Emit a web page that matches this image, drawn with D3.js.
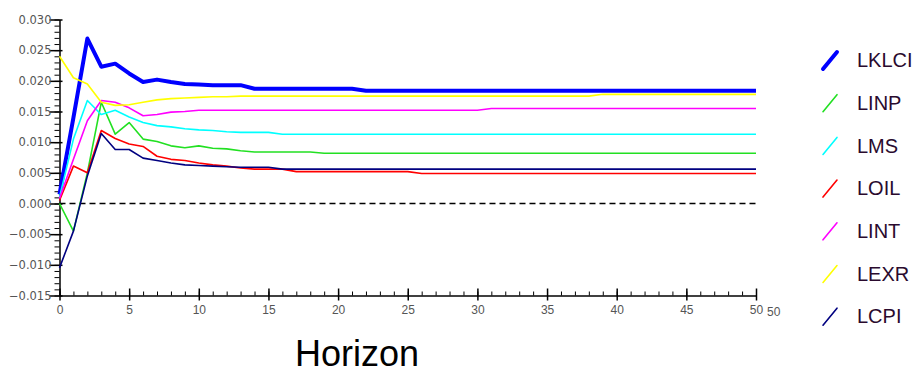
<!DOCTYPE html>
<html>
<head>
<meta charset="utf-8">
<script src="https://cdn.jsdelivr.net/npm/d3@7"></script>
<style>
  body { margin: 0; background: #fff; }
  svg { display: block; }
</style>
</head>
<body>
<svg id="chart" width="924" height="375"></svg>
<script>
// impulse responses, horizon 0..50
const horizon = d3.range(0, 51);

const LKLCI = [0.0015, 0.0140, 0.0269, 0.0223, 0.0228, 0.0212, 0.0198, 0.0202, 0.0198, 0.0195,
  0.0194, 0.0193, 0.0193, 0.0193, 0.0187, 0.0187, 0.0187, 0.0187, 0.0187, 0.0187,
  0.0187, 0.0187, 0.0184, 0.0184, 0.0184, 0.0184, 0.0184, 0.0184, 0.0184, 0.0184,
  0.0184, 0.0184, 0.0184, 0.0184, 0.0184, 0.0184, 0.0184, 0.0184, 0.0184, 0.0184,
  0.0184, 0.0184, 0.0184, 0.0184, 0.0184, 0.0184, 0.0184, 0.0184, 0.0184, 0.0184, 0.0184];

const LINP = [0.0000, -0.0045, 0.0050, 0.0165, 0.0113, 0.0132, 0.0105, 0.0101, 0.0094, 0.0091,
  0.0094, 0.0090, 0.0089, 0.0086, 0.0084, 0.0084, 0.0084, 0.0084, 0.0084, 0.0082,
  0.0082, 0.0082, 0.0082, 0.0082, 0.0082, 0.0082, 0.0082, 0.0082, 0.0082, 0.0082,
  0.0082, 0.0082, 0.0082, 0.0082, 0.0082, 0.0082, 0.0082, 0.0082, 0.0082, 0.0082,
  0.0082, 0.0082, 0.0082, 0.0082, 0.0082, 0.0082, 0.0082, 0.0082, 0.0082, 0.0082, 0.0082];

const LMS = [0.0010, 0.0105, 0.0168, 0.0145, 0.0152, 0.0141, 0.0132, 0.0127, 0.0125, 0.0122,
  0.0120, 0.0119, 0.0117, 0.0116, 0.0116, 0.0116, 0.0113, 0.0113, 0.0113, 0.0113,
  0.0113, 0.0113, 0.0113, 0.0113, 0.0113, 0.0113, 0.0113, 0.0113, 0.0113, 0.0113,
  0.0113, 0.0113, 0.0113, 0.0113, 0.0113, 0.0113, 0.0113, 0.0113, 0.0113, 0.0113,
  0.0113, 0.0113, 0.0113, 0.0113, 0.0113, 0.0113, 0.0113, 0.0113, 0.0113, 0.0113, 0.0113];

const LOIL = [0.0005, 0.0061, 0.0050, 0.0119, 0.0106, 0.0097, 0.0093, 0.0077, 0.0072, 0.0070,
  0.0066, 0.0063, 0.0061, 0.0058, 0.0056, 0.0056, 0.0056, 0.0052, 0.0052, 0.0052,
  0.0052, 0.0052, 0.0052, 0.0052, 0.0052, 0.0052, 0.0049, 0.0049, 0.0049, 0.0049,
  0.0049, 0.0049, 0.0049, 0.0049, 0.0049, 0.0049, 0.0049, 0.0049, 0.0049, 0.0049,
  0.0049, 0.0049, 0.0049, 0.0049, 0.0049, 0.0049, 0.0049, 0.0049, 0.0049, 0.0049, 0.0049];

const LINT = [0.0008, 0.0072, 0.0135, 0.0168, 0.0165, 0.0156, 0.0143, 0.0145, 0.0149, 0.0150,
  0.0152, 0.0152, 0.0152, 0.0152, 0.0152, 0.0152, 0.0152, 0.0152, 0.0152, 0.0152,
  0.0152, 0.0152, 0.0152, 0.0152, 0.0152, 0.0152, 0.0152, 0.0152, 0.0152, 0.0152,
  0.0152, 0.0155, 0.0155, 0.0155, 0.0155, 0.0155, 0.0155, 0.0155, 0.0155, 0.0155,
  0.0155, 0.0155, 0.0155, 0.0155, 0.0155, 0.0155, 0.0155, 0.0155, 0.0155, 0.0155, 0.0155];

const LEXR = [0.0240, 0.0205, 0.0195, 0.0165, 0.0160, 0.0161, 0.0165, 0.0169, 0.0171, 0.0172,
  0.0173, 0.0174, 0.0174, 0.0175, 0.0175, 0.0175, 0.0175, 0.0175, 0.0175, 0.0175,
  0.0175, 0.0175, 0.0175, 0.0175, 0.0175, 0.0175, 0.0175, 0.0175, 0.0175, 0.0175,
  0.0175, 0.0175, 0.0175, 0.0175, 0.0175, 0.0175, 0.0175, 0.0175, 0.0175, 0.0178,
  0.0178, 0.0178, 0.0178, 0.0178, 0.0178, 0.0178, 0.0178, 0.0178, 0.0178, 0.0178, 0.0178];

const LCPI = [-0.0105, -0.0045, 0.0045, 0.0114, 0.0088, 0.0088, 0.0074, 0.0070, 0.0066, 0.0063,
  0.0062, 0.0061, 0.0060, 0.0059, 0.0059, 0.0059, 0.0056, 0.0056, 0.0056, 0.0056,
  0.0056, 0.0056, 0.0056, 0.0056, 0.0056, 0.0056, 0.0056, 0.0056, 0.0056, 0.0056,
  0.0056, 0.0056, 0.0056, 0.0056, 0.0056, 0.0056, 0.0056, 0.0056, 0.0056, 0.0056,
  0.0056, 0.0056, 0.0056, 0.0056, 0.0056, 0.0056, 0.0056, 0.0056, 0.0056, 0.0056, 0.0056];

const seriesNames = ['LKLCI', 'LINP', 'LMS', 'LOIL', 'LINT', 'LEXR', 'LCPI'];
const seriesValues = [LKLCI, LINP, LMS, LOIL, LINT, LEXR, LCPI];
const seriesColors = ['#0000ff', '#22e022', '#00ffff', '#ff0000', '#ff00ff', '#ffff00', '#000080'];

const yTicks = [-0.015, -0.010, -0.005, 0.000, 0.005, 0.010, 0.015, 0.020, 0.025, 0.030];
const xTicks = [0, 5, 10, 15, 20, 25, 30, 35, 40, 45, 50];

const svg = d3.select('#chart');

const x = d3.scaleLinear().domain([0, 50]).range([59.5, 756]);
const y = d3.scaleLinear().domain([-0.015, 0.030]).range([295.5, 19.5]);

// y axis: minor ticks, then major ticks with labels
svg.append('g')
    .attr('transform', 'translate(59.5,0)')
    .call(d3.axisLeft(y).tickValues(d3.range(-15, 31).map(d => d / 1000)).tickSize(5).tickSizeOuter(0).tickFormat(''))
    .call(g => g.select('.domain').attr('stroke', '#000').attr('stroke-width', 1.5));

const yAxis = svg.append('g')
    .attr('transform', 'translate(59.5,0)')
    .call(d3.axisLeft(y).tickValues(yTicks).tickSize(10).tickSizeOuter(0).tickFormat(d3.format('.3f')));
yAxis.select('.domain').remove();
yAxis.selectAll('.tick line').attr('x2', 3).attr('x1', -10).attr('stroke-width', 1.5);
yAxis.selectAll('.tick text')
    .attr('x', -8)
    .attr('fill', '#555')
    .style('font-family', '"DejaVu Sans", sans-serif')
    .style('font-size', '11.5px');

// x axis
svg.append('g')
    .attr('transform', 'translate(0,295.5)')
    .call(d3.axisTop(x).tickValues(horizon).tickSize(4).tickSizeOuter(0).tickFormat(''))
    .call(g => g.select('.domain').attr('stroke', '#000').attr('stroke-width', 1.5));

const xAxis = svg.append('g')
    .attr('transform', 'translate(0,295.5)')
    .call(d3.axisBottom(x).tickValues(xTicks).tickSize(5).tickSizeOuter(0));
xAxis.select('.domain').remove();
xAxis.selectAll('.tick line').attr('y1', -7).attr('stroke-width', 1.5);
xAxis.selectAll('.tick text')
    .attr('y', 10)
    .attr('fill', '#555')
    .style('font-family', '"Liberation Sans", Arial, sans-serif')
    .style('font-size', '12px');

// stray duplicate end label, as in the original
svg.append('text')
    .attr('x', x(50) + 11)
    .attr('y', 316)
    .attr('fill', '#555')
    .style('font-family', '"Liberation Sans", Arial, sans-serif')
    .style('font-size', '12px')
    .text('50');

// zero line
svg.append('line')
    .attr('x1', x(0)).attr('x2', x(50))
    .attr('y1', y(0)).attr('y2', y(0))
    .attr('stroke', '#000')
    .attr('stroke-width', 1.5)
    .attr('stroke-dasharray', '6,4');

const line = d3.line()
    .x((d, i) => x(horizon[i]))
    .y(d => y(d));

seriesValues.forEach((vals, i) => {
    svg.append('path')
        .datum(vals)
        .attr('fill', 'none')
        .attr('stroke', seriesColors[i])
        .attr('stroke-width', i === 0 ? 4 : 1.6)
        .attr('stroke-linejoin', 'round')
        .attr('d', line);
});

// legend
const legend = svg.append('g');
seriesNames.forEach((name, i) => {
    const cy = 60 + i * 42.7;
    legend.append('line')
        .attr('x1', 823).attr('y1', cy + 9)
        .attr('x2', 837).attr('y2', cy - 8)
        .attr('stroke', seriesColors[i])
        .attr('stroke-width', i === 0 ? 4 : 1.6)
        .attr('stroke-linecap', 'round');
    legend.append('text')
        .attr('x', 857)
        .attr('y', cy)
        .attr('dy', '0.36em')
        .attr('fill', '#2a0a2e')
        .style('font-family', '"Liberation Sans", Arial, sans-serif')
        .style('font-size', '20px')
        .text(name);
});

svg.append('text')
    .attr('x', 295)
    .attr('y', 366)
    .attr('fill', '#000')
    .style('font-family', '"Liberation Sans", Arial, sans-serif')
    .style('font-size', '36px')
    .text('Horizon');
</script>
</body>
</html>
